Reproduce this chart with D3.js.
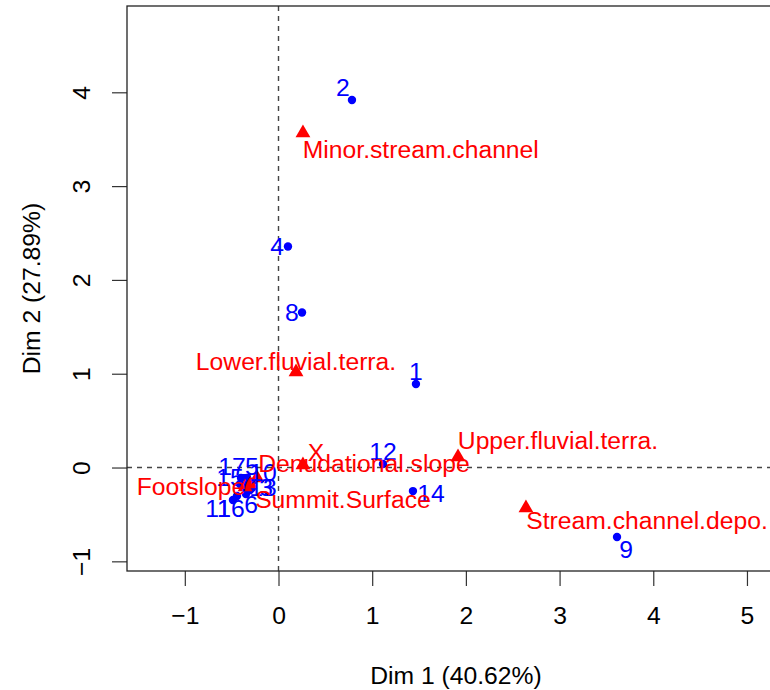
<!DOCTYPE html>
<html><head><meta charset="utf-8">
<script src="https://cdn.jsdelivr.net/npm/d3@7/dist/d3.min.js"></script>
<style>body{margin:0;background:#fff}svg{display:block;font-family:Arial,"Liberation Sans",sans-serif}</style>
</head><body><svg id="c" width="770" height="690"></svg>
<script>
// Individuals (blue points)
const indNames = ["1","2","3","4","5","6","7","8","9","10","11","12","13","14","15","16","17"];
const indX = [1.467,0.784,-0.283,0.101,-0.336,-0.347,-0.379,0.251,3.613,-0.283,-0.486,1.115,-0.304,1.435,-0.411,-0.443,-0.400];
const indY = [0.890,3.918,-0.219,2.356,-0.112,-0.283,-0.208,1.652,-0.741,-0.155,-0.346,0.037,-0.240,-0.251,-0.176,-0.304,-0.112];
const indLabX = [1.467,0.688,-0.133,-0.016,-0.283,-0.293,-0.358,0.144,3.709,-0.165,-0.646,1.115,-0.165,1.628,-0.518,-0.507,-0.496];
const indLabY = [1.029,4.046,-0.208,2.356,0.016,-0.389,-0.155,1.652,-0.869,-0.048,-0.442,0.176,-0.208,-0.272,-0.101,-0.442,0.016];
// Categories (red triangles)
const catNames = ["Minor.stream.channel","Lower.fluvial.terra.","Upper.fluvial.terra.","Stream.channel.depo.","X","Denudational.slope","Footslope","Summit.Surface"];
const catX = [0.261,0.187,1.916,2.641,0.261,-0.229,-0.357,-0.304];
const catY = [3.566,1.018,0.112,-0.432,0.027,-0.112,-0.208,-0.176];
const catLabX = [1.519,0.187,2.983,3.933,0.400,0.912,-0.934,0.688];
const catLabY = [3.385,1.135,0.283,-0.560,0.165,0.048,-0.197,-0.346];
// Axes
const xTicks = [-1,0,1,2,3,4,5];
const yTicks = [-1,0,1,2,3,4];
const xTitle = "Dim 1 (40.62%)";
const yTitle = "Dim 2 (27.89%)";

const svg = d3.select("#c");
const L = 127, R = 785, T = 6, B = 571, FS = 24.7;
const x = d3.scaleLinear().domain([-1.617, 5.406]).range([L, R]);
const y = d3.scaleLinear().domain([-1.103, 4.920]).range([B, T]);

// dashed zero lines
svg.append("line").attr("x1", x(0)).attr("x2", x(0)).attr("y1", T).attr("y2", B)
  .attr("stroke", "#444").attr("stroke-width", 1.4).attr("stroke-dasharray", "5,5");
svg.append("line").attr("x1", L).attr("x2", R).attr("y1", y(0)).attr("y2", y(0))
  .attr("stroke", "#444").attr("stroke-width", 1.4).attr("stroke-dasharray", "5,5");

// axes
const fmt = d => d < 0 ? "\u2212" + Math.abs(d) : String(d);
const gx = svg.append("g").attr("transform", `translate(0,${B})`)
  .call(d3.axisBottom(x).tickValues(xTicks).tickSize(15).tickPadding(20).tickFormat(fmt));
const gy = svg.append("g").attr("transform", `translate(${L},0)`)
  .call(d3.axisLeft(y).tickValues(yTicks).tickSize(15).tickFormat(fmt));
[gx, gy].forEach(g => {
  g.select(".domain").remove();
  g.selectAll(".tick line").attr("stroke", "#333").attr("stroke-width", 1.2);
  g.selectAll("text").attr("font-size", FS).attr("fill", "#000")
    .attr("font-family", "Arial, 'Liberation Sans', sans-serif");
});
gy.selectAll("text").attr("x", null).attr("dy", null).attr("text-anchor", "middle")
  .attr("transform", "translate(-37,0) rotate(-90)");

// box
svg.append("rect").attr("x", L).attr("y", T).attr("width", R - L).attr("height", B - T)
  .attr("fill", "none").attr("stroke", "#222").attr("stroke-width", 1.3);

// titles
svg.append("text").attr("x", (L + R) / 2).attr("y", 684).attr("text-anchor", "middle")
  .attr("font-size", FS).text(xTitle);
svg.append("text").attr("transform", `translate(40,${(T + B) / 2}) rotate(-90)`)
  .attr("text-anchor", "middle").attr("font-size", FS).text(yTitle);

const ind = indNames.map((n, i) => ({n, x: indX[i], y: indY[i], lx: indLabX[i], ly: indLabY[i]}));
const cat = catNames.map((n, i) => ({n, x: catX[i], y: catY[i], lx: catLabX[i], ly: catLabY[i]}));

svg.append("g").selectAll("circle").data(ind).join("circle")
  .attr("cx", d => x(d.x)).attr("cy", d => y(d.y)).attr("r", 4.2).attr("fill", "#0000FF");
svg.append("g").selectAll("path").data(cat).join("path")
  .attr("d", d3.symbol(d3.symbolTriangle, 95))
  .attr("transform", d => `translate(${x(d.x)},${y(d.y)})`).attr("fill", "#FF0000");
svg.append("g").selectAll("text").data(ind).join("text")
  .attr("x", d => x(d.lx)).attr("y", d => y(d.ly) + 8.5).attr("text-anchor", "middle")
  .attr("font-size", FS).attr("fill", "#0000FF").text(d => d.n);
svg.append("g").selectAll("text").data(cat).join("text")
  .attr("x", d => x(d.lx)).attr("y", d => y(d.ly) + 8.5).attr("text-anchor", "middle")
  .attr("font-size", FS).attr("fill", "#FF0000").text(d => d.n);
</script></body></html>
